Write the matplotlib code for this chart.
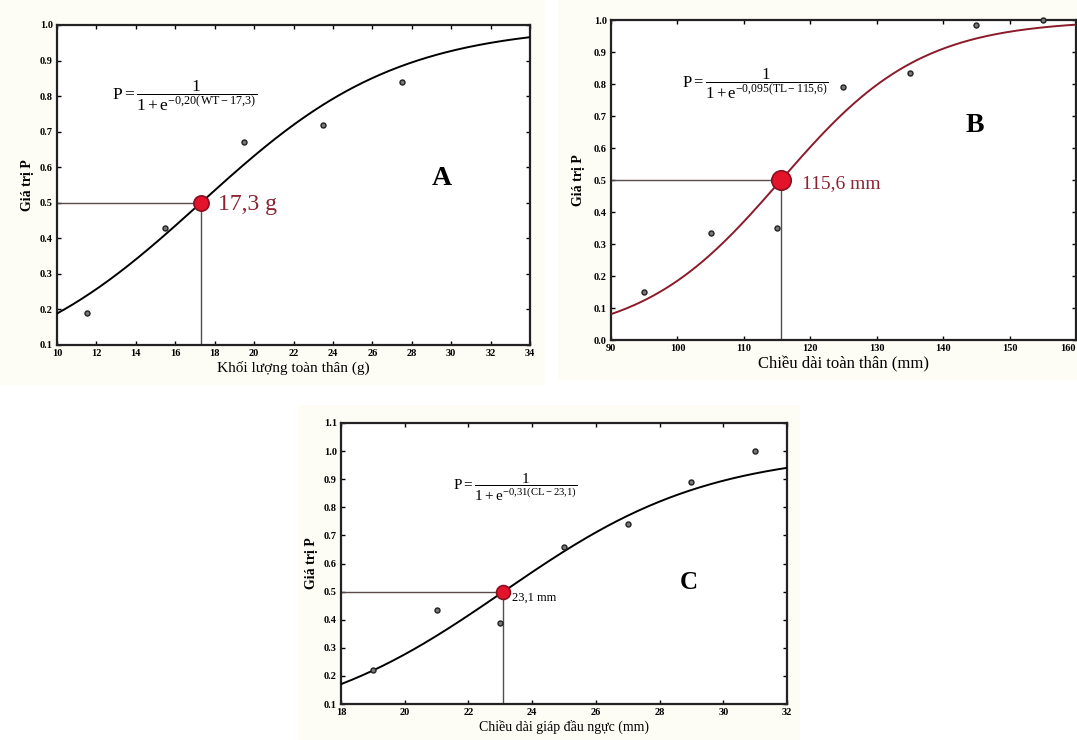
import numpy as np
import matplotlib
matplotlib.use("Agg")
import matplotlib.pyplot as plt
from matplotlib.patches import Rectangle

plt.rcParams['font.family'] = ['Liberation Serif', 'DejaVu Serif']
plt.rcParams['mathtext.fontset'] = 'custom'
plt.rcParams['mathtext.rm'] = 'Liberation Serif'
plt.rcParams['mathtext.it'] = 'Liberation Serif:italic'

# ---- data ----
# Panel A: body weight (g)
a_x = [11.5, 15.5, 19.5, 23.5, 27.5]
a_y = [0.19, 0.43, 0.67, 0.72, 0.84]
a_k, a_x50 = 0.20, 17.3
a_xlim = (10, 34)
a_ylim = (0.1, 1.0)
a_xticks = [10, 12, 14, 16, 18, 20, 22, 24, 26, 28, 30, 32, 34]
a_yticks = [0.1, 0.2, 0.3, 0.4, 0.5, 0.6, 0.7, 0.8, 0.9, 1.0]

# Panel B: total length (mm)
b_x = [95, 105, 115, 125, 135, 145, 155]
b_y = [0.15, 0.335, 0.35, 0.79, 0.835, 0.985, 1.0]
b_k, b_x50 = 0.095, 115.6
b_xlim = (90, 160)
b_ylim = (0.0, 1.0)
b_xticks = [90, 100, 110, 120, 130, 140, 150, 160]
b_yticks = [0.0, 0.1, 0.2, 0.3, 0.4, 0.5, 0.6, 0.7, 0.8, 0.9, 1.0]

# Panel C: carapace length (mm)
c_x = [19, 21, 23, 25, 27, 29, 31]
c_y = [0.22, 0.435, 0.39, 0.66, 0.74, 0.89, 1.0]
c_k, c_x50 = 0.31, 23.1
c_xlim = (18, 32)
c_ylim = (0.1, 1.1)
c_xticks = [18, 20, 22, 24, 26, 28, 30, 32]
c_yticks = [0.1, 0.2, 0.3, 0.4, 0.5, 0.6, 0.7, 0.8, 0.9, 1.0, 1.1]

W, H = 1077, 740
fig = plt.figure(figsize=(W / 100, H / 100), dpi=100)
fig.patch.set_facecolor('white')

def px_rect(l, t, r, b):
    return [l / W, 1 - b / H, (r - l) / W, (b - t) / H]

# faint cream backgrounds around the panels
for (l, t, r, b) in [(0, 0, 545, 385), (558, 0, 1077, 380), (298, 405, 800, 740)]:
    fig.patches.append(Rectangle((l / W, 1 - b / H), (r - l) / W, (b - t) / H,
                                 transform=fig.transFigure, facecolor='#fefdf5',
                                 edgecolor='none', zorder=-10))

def logistic(x, k, x50):
    return 1.0 / (1.0 + np.exp(-k * (x - x50)))

def panel(rect, xs, ys, k, x50, xlim, ylim, xticks, yticks, curve_color,
          msize, xlabel, xlabel_size, eq, eq_pos, eq_size, val_text, val_pos,
          val_size, val_color, letter, letter_pos, letter_size, ylabel_pad):
    ax = fig.add_axes(px_rect(*rect))
    ax.set_facecolor('white')
    xx = np.linspace(xlim[0], xlim[1], 300)
    ax.plot(xx, logistic(xx, k, x50), color=curve_color, lw=1.4, zorder=3)
    ax.plot([xlim[0], x50], [0.5, 0.5], color='#5a4a4a', lw=1.0, zorder=2)
    ax.plot([x50, x50], [ylim[0], 0.5], color='#5a4a4a', lw=1.0, zorder=2)
    ax.plot(xs, ys, 'o', ms=3.6, mfc='#777777', mec='#222222', mew=1.0,
            zorder=4, clip_on=False)
    ax.plot([x50], [0.5], 'o', ms=msize, mfc='#e3132b', mec='#8b1020',
            mew=1.2, zorder=5)
    ax.set_xlim(*xlim)
    ax.set_ylim(*ylim)
    ax.set_xticks(xticks)
    ax.set_yticks(yticks)
    ax.set_yticklabels([f"{v:.1f}" for v in yticks])
    ax.tick_params(direction='in', length=3, width=1, top=True, right=True,
                   labelsize=7.5, pad=3)
    for lab in ax.get_xticklabels() + ax.get_yticklabels():
        lab.set_fontweight('bold')
    for s in ax.spines.values():
        s.set_linewidth(1.6)
        s.set_color('#222222')
    ax.set_xlabel(xlabel, fontsize=xlabel_size, labelpad=2)
    ax.set_ylabel('Giá trị P', fontsize=10, fontweight='bold', labelpad=ylabel_pad)
    ax.text(eq_pos[0], eq_pos[1], eq, transform=ax.transAxes, fontsize=eq_size,
            ha='center', va='center')
    ax.text(val_pos[0], val_pos[1], val_text, transform=ax.transAxes,
            fontsize=val_size, color=val_color, ha='left', va='center')
    ax.text(letter_pos[0], letter_pos[1], letter, transform=ax.transAxes,
            fontsize=letter_size, fontweight='bold', ha='center', va='center')
    return ax

panel((57, 25, 530, 345), a_x, a_y, a_k, a_x50, a_xlim, a_ylim, a_xticks, a_yticks,
      'black', 11, 'Khối lượng toàn thân (g)', 11,
      r'$\mathrm{P}=\dfrac{1}{1+\mathrm{e}^{-0{,}20(\mathrm{WT}-17{,}3)}}$', (0.27, 0.78), 12.5,
      '17,3 g', (0.34, 0.44), 17, '#8b2332', 'A', (0.814, 0.52), 20, 4)

axb = panel((611, 20, 1076, 340), b_x, b_y, b_k, b_x50, b_xlim, b_ylim, b_xticks, b_yticks,
      '#8b1a2a', 14, 'Chiều dài toàn thân (mm)', 12,
      r'$\mathrm{P}=\dfrac{1}{1+\mathrm{e}^{-0{,}095(\mathrm{TL}-115{,}6)}}$', (0.31, 0.80), 12,
      '115,6 mm', (0.41, 0.49), 14, '#8b2332', 'B', (0.783, 0.67), 20, 6)
# keep the last x tick label inside the figure
axb.get_xticklabels()[-1].set_horizontalalignment('right')

panel((341, 423, 787, 704), c_x, c_y, c_k, c_x50, c_xlim, c_ylim, c_xticks, c_yticks,
      'black', 10, 'Chiều dài giáp đầu ngực (mm)', 10,
      r'$\mathrm{P}=\dfrac{1}{1+\mathrm{e}^{-0{,}31(\mathrm{CL}-23{,}1)}}$', (0.39, 0.77), 11,
      '23,1 mm', (0.383, 0.377), 9, 'black', 'C', (0.78, 0.434), 18, 4)

fig.savefig('out.png', dpi=100, facecolor=fig.get_facecolor())
